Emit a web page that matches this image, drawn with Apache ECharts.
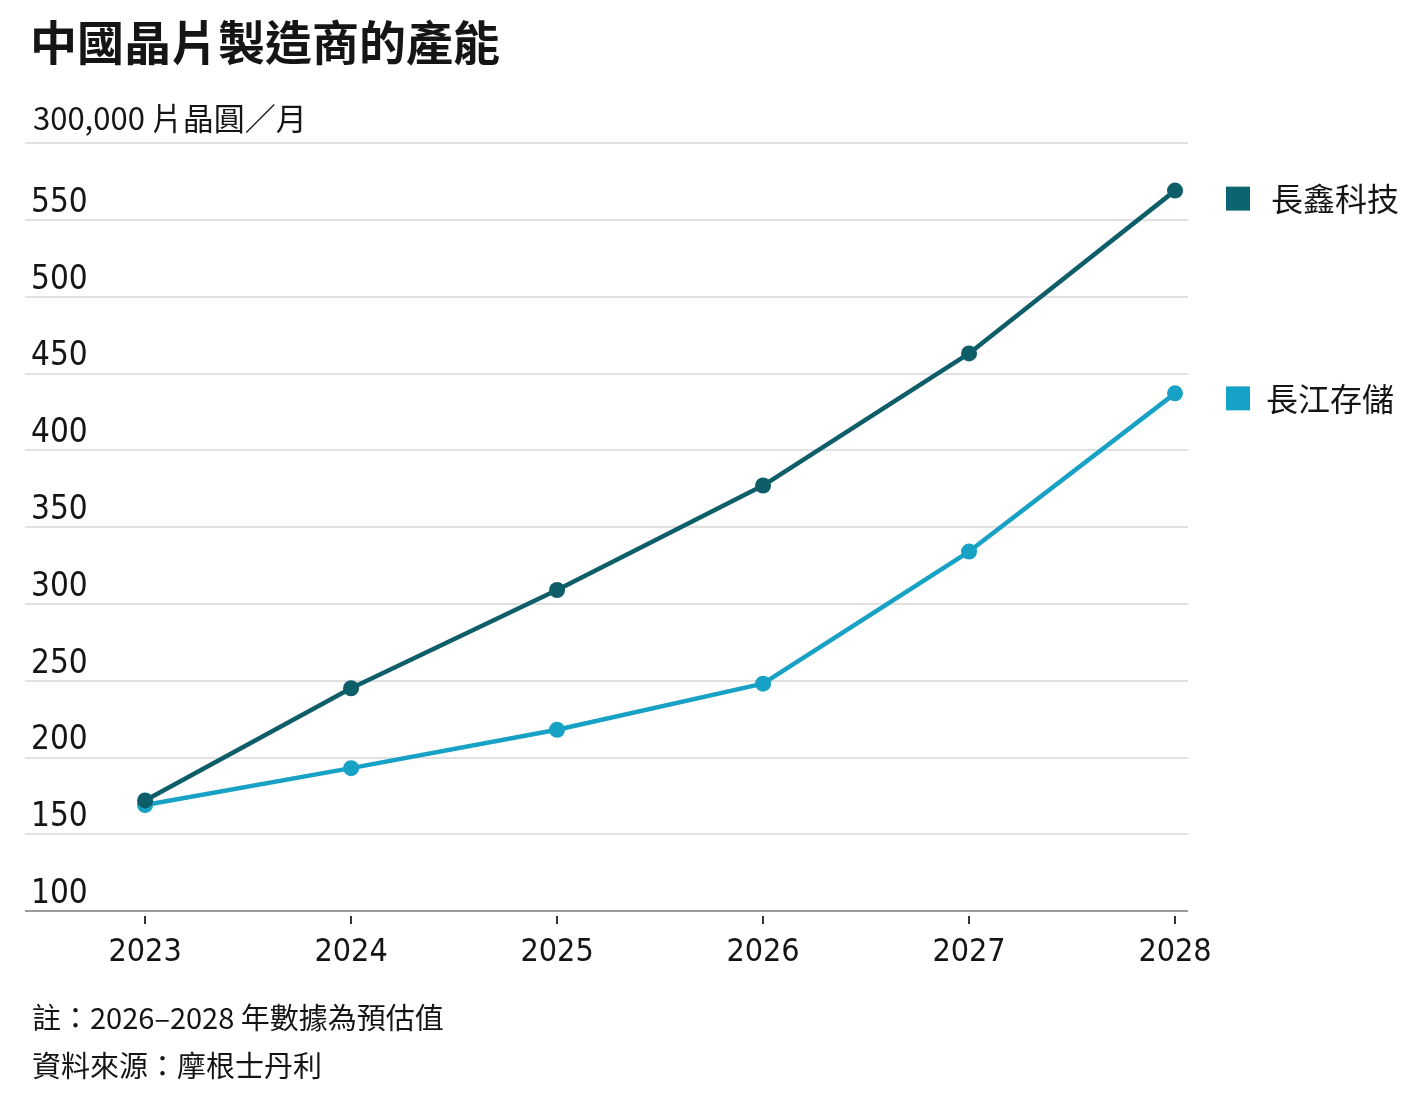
<!DOCTYPE html>
<html>
<head>
<meta charset="utf-8">
<style>
    html, body { margin: 0; padding: 0; background: #fff; }
    #main { width: 1418px; height: 1109px; }
</style>
<script src="https://cdn.jsdelivr.net/npm/echarts@6/dist/echarts.min.js"></script>
</head>
<body>
<div id="main"></div>
<script>
// 數據
var years = [2023, 2024, 2025, 2026, 2027, 2028];
var cxmt = [172, 245, 309, 377, 463, 569];   // 長鑫科技
var ymtc = [169, 193, 218, 248, 334, 437];   // 長江存儲
var yTicks = [100, 150, 200, 250, 300, 350, 400, 450, 500, 550, 600];

var darkColor = "#0d5e68";
var lightColor = "#17a1c4";
var textColor = "#151515";
var cjk = "'Noto Sans CJK TC', 'Noto Sans CJK SC', sans-serif";
var narrow = "'Liberation Sans Narrow', 'DejaVu Sans Condensed', sans-serif";

function pairs(vals) {
    return vals.map(function (v, i) {
        return [years[i], v];
    });
}

// 底線顏色深一點，其餘格線淺灰
var gridColors = yTicks.map(function (v, i) {
    return i === 0 ? "#9a9a9a" : "#e1e1e1";
});

(function () {
    var myChart = echarts.init(document.getElementById("main"));
    var option = {
        backgroundColor: "#fff",
        title: [
            {
                text: "中國晶片製造商的產能",
                left: 25,
                top: 14,
                textStyle: { fontFamily: cjk, fontSize: 47, fontWeight: "bold", color: textColor },
            },
            {
                text: "300,000 片晶圓／月",
                left: 28,
                top: 98,
                textStyle: { fontFamily: cjk, fontSize: 31, fontWeight: "normal", color: textColor },
            },
            {
                text: "註：2026–2028 年數據為預估值",
                left: 27,
                top: 998,
                textStyle: { fontFamily: cjk, fontSize: 29, fontWeight: "normal", color: textColor },
            },
            {
                text: "資料來源：摩根士丹利",
                left: 27,
                top: 1046,
                textStyle: { fontFamily: cjk, fontSize: 29, fontWeight: "normal", color: textColor },
            },
        ],
        grid: {
            left: 25,
            right: 230,
            top: 143,
            bottom: 198,
            containLabel: false,
        },
        xAxis: {
            type: "value",
            min: 2022.417,
            max: 2028.063,
            offset: 5,
            axisLine: { show: false },
            splitLine: { show: false },
            axisTick: {
                show: true,
                customValues: years,
                length: 8,
                lineStyle: { color: "#333", width: 2 },
            },
            axisLabel: {
                customValues: years,
                margin: 21,
                fontFamily: narrow,
                fontSize: 32,
                color: textColor,
                formatter: function (v) {
                    return String(v);
                },
            },
        },
        yAxis: {
            type: "value",
            min: 100,
            max: 600,
            interval: 50,
            axisLine: { show: false },
            axisTick: { show: false },
            axisLabel: {
                inside: true,
                margin: 6,
                verticalAlign: "bottom",
                padding: [0, 0, 0, 0],
                fontFamily: narrow,
                fontSize: 33,
                color: textColor,
                formatter: function (v) {
                    return v === 600 ? "" : String(v);
                },
            },
            splitLine: {
                lineStyle: { color: gridColors, width: 2 },
            },
        },
        series: [
            {
                name: "長江存儲",
                type: "line",
                data: pairs(ymtc),
                color: lightColor,
                symbol: "circle",
                symbolSize: 16,
                lineStyle: { width: 4.5, color: lightColor },
                itemStyle: { color: lightColor },
                endLabel: {
                    show: true,
                    distance: 51,
                    offset: [0, 5],
                    formatter: "{sq|}{t|長江存儲}",
                    rich: {
                        sq: { width: 24, height: 24, backgroundColor: "#16a2c6" },
                        t: { padding: [0, 0, 0, 16], fontFamily: cjk, fontSize: 32, color: textColor },
                    },
                },
            },
            {
                name: "長鑫科技",
                type: "line",
                data: pairs(cxmt),
                color: darkColor,
                symbol: "circle",
                symbolSize: 16,
                lineStyle: { width: 4.5, color: darkColor },
                itemStyle: { color: darkColor },
                endLabel: {
                    show: true,
                    distance: 51,
                    offset: [0, 8],
                    formatter: "{sq|}{t|長鑫科技}",
                    rich: {
                        sq: { width: 24, height: 24, backgroundColor: "#0c6470" },
                        t: { padding: [0, 0, 0, 21], fontFamily: cjk, fontSize: 32, color: textColor },
                    },
                },
            },
        ],
    };
    myChart.setOption(option);
    window.addEventListener("resize", function () {
        myChart.resize();
    });
})();
</script>
</body>
</html>
